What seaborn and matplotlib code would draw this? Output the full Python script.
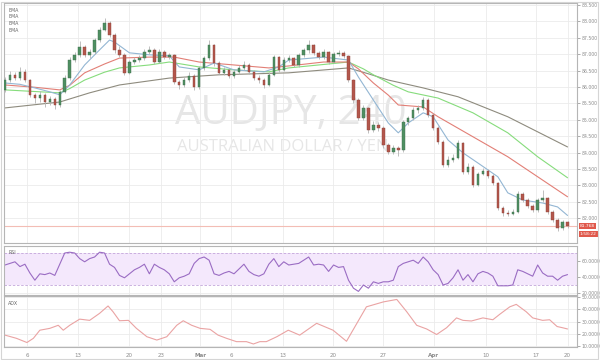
import numpy as np
import pandas as pd
import matplotlib
matplotlib.use("Agg")
import matplotlib.pyplot as plt
from matplotlib.patches import Rectangle
import seaborn as sns

# ---------------- data (AUDJPY 4H candles) ----------------
OPEN = [85.91, 86.21, 86.37, 86.28, 86.46, 86.21, 85.76, 85.67, 85.76, 85.54,
        85.63, 85.45, 85.85, 86.28, 86.82, 86.98, 87.22, 86.98, 87.07, 87.43,
        87.74, 87.95, 87.59, 87.13, 86.98, 86.43, 86.76, 86.82, 86.88, 87.07,
        87.13, 86.76, 87.07, 86.91, 86.98, 86.15, 86.06, 86.21, 86.34, 86.00,
        86.58, 86.88, 87.28, 86.73, 86.43, 86.52, 86.34, 86.46, 86.58, 86.67,
        86.46, 86.28, 86.21, 86.06, 86.37, 86.91, 86.52, 86.82, 86.88, 86.67,
        86.98, 87.13, 87.28, 87.04, 86.91, 87.07, 86.76, 87.01, 87.04, 86.95,
        86.21, 85.60, 85.05, 85.36, 84.69, 84.84, 84.75, 84.23, 84.02, 84.14,
        84.08, 84.93, 85.05, 85.30, 85.36, 85.60, 85.15, 84.75, 84.32, 83.62,
        83.77, 83.84, 84.29, 83.41, 83.56, 83.01, 83.35, 83.44, 83.29, 83.07,
        82.31, 82.16, 82.13, 82.19, 82.74, 82.55, 82.37, 82.25, 82.55, 82.61,
        82.19, 81.94, 81.70, 81.88]
HIGH = [86.30, 86.50, 86.45, 86.62, 86.55, 86.25, 85.82, 85.88, 85.80, 85.72,
        85.68, 85.92, 86.35, 86.90, 87.08, 87.40, 87.28, 87.15, 87.50, 87.82,
        88.10, 88.02, 87.65, 87.25, 87.02, 86.82, 86.92, 86.98, 87.15, 87.25,
        87.18, 87.15, 87.12, 87.05, 87.00, 86.22, 86.30, 86.45, 86.40, 86.65,
        86.95, 87.43, 87.32, 86.80, 86.62, 86.58, 86.55, 86.68, 86.80, 86.72,
        86.52, 86.35, 86.28, 86.45, 86.98, 86.95, 86.90, 86.98, 86.92, 87.05,
        87.20, 87.43, 87.32, 87.10, 87.15, 87.10, 87.08, 87.12, 87.10, 86.98,
        86.25, 85.65, 85.45, 85.40, 84.95, 84.92, 84.80, 84.30, 84.22, 84.20,
        85.00, 85.12, 85.38, 85.45, 85.70, 85.65, 85.20, 84.80, 84.38, 83.88,
        83.95, 84.38, 84.32, 83.68, 83.62, 83.42, 83.52, 83.50, 83.35, 83.10,
        82.38, 82.25, 82.28, 82.82, 82.80, 82.62, 82.42, 82.62, 82.85, 82.65,
        82.25, 82.00, 81.95, 81.92]
LOW = [85.85, 86.15, 86.20, 86.22, 86.15, 85.70, 85.50, 85.55, 85.40, 85.45,
       85.32, 85.40, 85.80, 86.22, 86.75, 86.92, 86.90, 86.88, 87.00, 87.38,
       87.70, 87.52, 87.05, 86.90, 86.35, 86.38, 86.70, 86.75, 86.82, 87.00,
       86.70, 86.72, 86.85, 86.85, 86.08, 85.95, 86.00, 86.15, 85.92, 85.95,
       86.52, 86.82, 86.65, 86.38, 86.35, 86.28, 86.28, 86.40, 86.52, 86.40,
       86.20, 86.12, 85.98, 86.02, 86.32, 86.45, 86.48, 86.75, 86.60, 86.62,
       86.92, 87.05, 86.98, 86.85, 86.85, 86.70, 86.72, 86.95, 86.88, 86.15,
       85.52, 84.98, 84.98, 84.60, 84.62, 84.65, 84.15, 83.95, 83.95, 83.90,
       84.02, 84.85, 85.00, 85.22, 85.30, 85.08, 84.68, 84.25, 83.55, 83.55,
       83.70, 83.80, 83.35, 83.35, 82.95, 82.98, 83.30, 83.22, 83.00, 82.25,
       82.05, 82.05, 82.08, 82.15, 82.48, 82.30, 82.18, 82.20, 82.50, 82.12,
       81.88, 81.62, 81.65, 81.70]
CLOSE = [86.21, 86.37, 86.28, 86.46, 86.21, 85.76, 85.67, 85.76, 85.54, 85.63,
         85.45, 85.85, 86.28, 86.82, 86.98, 87.22, 86.98, 87.07, 87.43, 87.74,
         87.95, 87.59, 87.13, 86.98, 86.43, 86.76, 86.82, 86.88, 87.07, 87.13,
         86.76, 87.07, 86.91, 86.98, 86.15, 86.06, 86.21, 86.34, 86.00, 86.58,
         86.88, 87.28, 86.73, 86.43, 86.52, 86.34, 86.46, 86.58, 86.67, 86.46,
         86.28, 86.21, 86.06, 86.37, 86.91, 86.52, 86.82, 86.88, 86.67, 86.98,
         87.13, 87.28, 87.04, 86.91, 87.07, 86.76, 87.01, 87.04, 86.95, 86.21,
         85.60, 85.05, 85.36, 84.69, 84.84, 84.75, 84.23, 84.02, 84.14, 84.08,
         84.93, 85.05, 85.30, 85.36, 85.60, 85.15, 84.75, 84.32, 83.62, 83.77,
         83.84, 84.29, 83.41, 83.56, 83.01, 83.35, 83.44, 83.29, 83.07, 82.31,
         82.16, 82.13, 82.19, 82.74, 82.55, 82.37, 82.25, 82.55, 82.61, 82.19,
         81.94, 81.70, 81.88, 81.77]
LAST_PRICE = 81.768

# EMA lines (candle index, value)
EMA1_X = [0, 3, 6, 9, 11, 13, 16, 19, 21, 22, 25, 29, 33, 35, 39, 42, 46, 52, 55, 57,
          64, 69, 71, 74, 77, 79, 81, 84, 86, 89, 92, 95, 99, 101, 104, 108, 111, 113]
EMA1_Y = [86.12, 86.08, 85.97, 85.85, 85.76, 86.06, 86.67, 87.13, 87.43, 87.37, 87.04, 86.98,
          86.95, 86.61, 86.52, 86.73, 86.52, 86.46, 86.61, 86.82, 86.91, 86.82,
          86.30, 85.60, 84.90, 84.60, 84.90, 85.21, 85.09, 84.38, 83.99, 83.68,
          83.26, 82.77, 82.55, 82.46, 82.34, 82.08]
EMA2_X = [0, 6, 11, 13, 16, 20, 23, 29, 34, 39, 46, 53, 57, 64, 69, 71, 74, 77, 79,
          84, 87, 94, 101, 107, 113]
EMA2_Y = [86.06, 85.99, 85.91, 86.05, 86.43, 86.70, 86.88, 86.91, 86.91, 86.76, 86.67,
          86.58, 86.64, 86.76, 86.76, 86.55, 86.12, 85.75, 85.45, 85.39, 85.09, 84.48,
          83.87, 83.26, 82.65]
EMA3_X = [0, 6, 11, 13, 16, 20, 23, 29, 33, 39, 46, 53, 57, 69, 72, 74, 78, 81, 87,
          94, 101, 107, 113]
EMA3_Y = [85.91, 85.86, 85.82, 85.95, 86.21, 86.45, 86.58, 86.67, 86.76, 86.61, 86.52,
          86.46, 86.58, 86.76, 86.55, 86.37, 86.05, 85.85, 85.66, 85.21, 84.60, 83.87,
          83.23]
EMA4_X = [0, 11, 17, 23, 33, 43, 57, 69, 73, 77, 84, 91, 101, 113]
EMA4_Y = [85.36, 85.54, 85.82, 86.06, 86.27, 86.37, 86.43, 86.58, 86.40, 86.21, 85.97,
          85.70, 85.09, 84.17]

RSI = [55, 57, 59, 53, 56, 45, 36, 44, 43, 45, 42, 56, 70, 71, 70, 63, 59, 63, 65, 71,
       70, 56, 52, 42, 39, 44, 49, 52, 56, 44, 56, 52, 49, 44, 34, 39, 41, 44, 57, 63,
       65, 61, 44, 42, 45, 47, 44, 50, 56, 47, 43, 41, 44, 56, 63, 53, 59, 55, 56, 57,
       61, 65, 55, 56, 55, 47, 55, 52, 53, 36, 26, 22, 30, 26, 34, 32, 34, 34, 36, 53,
       57, 59, 61, 57, 65, 59, 49, 43, 30, 32, 39, 49, 36, 43, 34, 44, 47, 45, 41, 29,
       29, 29, 30, 49, 47, 44, 41, 55, 45, 41, 41, 36, 41, 43]

ADX_X = [0, 2.3, 4.4, 5.7, 7, 9, 10.7, 11.7, 13, 15, 17, 19, 20.7, 21.7, 23, 24.8,
         26.4, 28.5, 30.5, 32.5, 34.5, 35.8, 37.5, 39.2, 41.2, 42.8, 44.5, 46.5,
         48.5, 49.9, 51.2, 52.5, 54.6, 56.9, 59.2, 62.6, 65.9, 68.6, 72.6, 76,
         78.7, 80.7, 82.7, 84.7, 86.7, 88.7, 90.7, 92, 93.7, 96, 98, 99.4, 101.4,
         102.7, 104.7, 106, 108, 109.4, 110.9, 112, 113]
ADX_Y = [19, 16.4, 13, 16.4, 23, 24.5, 27, 23, 27, 32, 31, 36.7, 42.7, 38, 30.7, 31,
         24.5, 17.7, 15, 17.7, 27, 30.7, 27, 24.5, 23.7, 19, 16.4, 13.7, 13.7, 11.8,
         13.7, 13.7, 17.7, 23, 19, 28.6, 23, 14, 42, 46, 48, 38, 27, 24, 19.5, 25,
         33, 31, 30.5, 33, 31.5, 36, 42, 44, 38, 33, 31, 31.5, 26, 25, 24]

XTICK_POS = [4.4, 14.7, 24.9, 31.3, 39.2, 45.4, 55.8, 65.9, 75.9, 86.1, 96.6, 106.6, 113]
XTICK_LAB = ['6', '13', '20', '23', 'Mar', '6', '13', '20', '27', 'Apr', '10', '17', '20']
PRICE_TICKS = [82.0, 82.5, 83.0, 83.5, 84.0, 84.5, 85.0, 85.5, 86.0, 86.5, 87.0, 87.5, 88.0, 88.5]
RSI_TICKS = [20, 40, 60]
ADX_TICKS = [10, 20, 30, 40, 50]

# ---------------- style ----------------
sns.set_theme(style="white")
plt.rcParams['font.family'] = ['DejaVu Sans']

W, H = 600, 360
fig = plt.figure(figsize=(6, 3.6), dpi=100)
fig.patch.set_facecolor('white')


def box(x0, y0, x1, y1):
    return [x0 / W, 1 - y1 / H, (x1 - x0) / W, (y1 - y0) / H]


ax_p = fig.add_axes(box(4, 3, 577, 243))
ax_r = fig.add_axes(box(4, 246, 577, 295), sharex=ax_p)
ax_a = fig.add_axes(box(4, 296, 577, 347), sharex=ax_p)

GRID = '#ebebeb'
SPINE = '#b5b5b5'
TICKC = '#8c8c8c'
for ax in (ax_p, ax_r, ax_a):
    ax.set_facecolor('white')
    for s in ax.spines.values():
        s.set_color(SPINE)
        s.set_linewidth(0.8)
    ax.yaxis.tick_right()
    ax.tick_params(axis='y', labelsize=3.3, colors=TICKC, length=2, width=0.5, pad=1.5,
                   right=True, left=False)
    ax.tick_params(axis='x', labelsize=4.0, colors=TICKC, length=2, width=0.5, pad=2)
    ax.grid(True, color=GRID, lw=0.6)
    ax.set_axisbelow(True)

ax_p.set_xlim(-0.2, 114.9)

# candles
df = pd.DataFrame(dict(i=np.arange(len(CLOSE)), o=OPEN, h=HIGH, l=LOW, c=CLOSE))
up = df.c >= df.o
ax_p.vlines(df.i, df.l, df.h, color='#b4b4b4', lw=0.6, zorder=2)
ax_p.bar(df.i[up], (df.c - df.o)[up], bottom=df.o[up], width=0.5,
         color='#4f8f62', edgecolor='#3d6e4b', lw=0.3, zorder=3)
ax_p.bar(df.i[~up], (df.o - df.c)[~up], bottom=df.c[~up], width=0.5,
         color='#b3574c', edgecolor='#8e4239', lw=0.3, zorder=3)

# EMAs
for xs, ys, col in ((EMA4_X, EMA4_Y, '#8e8b7e'), (EMA3_X, EMA3_Y, '#86dc7c'),
                    (EMA2_X, EMA2_Y, '#e27f76'), (EMA1_X, EMA1_Y, '#93b6d3')):
    sns.lineplot(x=xs, y=ys, ax=ax_p, color=col, linewidth=0.8, zorder=1.6)

ax_p.axhline(LAST_PRICE, color='#f3bdb5', lw=0.8, zorder=1.2)
ax_p.set_ylim(81.24, 88.56)
ax_p.set_yticks(PRICE_TICKS)
ax_p.set_yticklabels([f'{v:.3f}' for v in PRICE_TICKS])

# watermark
ax_p.text(0.5, 1 - (114 - 3) / 240, 'AUDJPY, 240', transform=ax_p.transAxes,
          ha='center', va='center', fontsize=29, color='#e6e6e6',
          family=['Open Sans', 'DejaVu Sans'], zorder=0.5)
ax_p.text(0.487, 1 - (147 - 3) / 240, 'AUSTRALIAN DOLLAR / YEN', transform=ax_p.transAxes,
          ha='center', va='center', fontsize=12, color='#e6e6e6',
          family=['Open Sans', 'DejaVu Sans'], zorder=0.5)

for k in range(4):
    ax_p.text(0.007, 1 - (7 + 6.7 * k) / 240, 'EMA', transform=ax_p.transAxes,
              ha='left', va='center', fontsize=3.4, color='#666666')

# price markers
yt = ax_p.get_yaxis_transform()
ax_p.text(1.005, LAST_PRICE, f'{LAST_PRICE:.3f}', transform=yt, ha='left', va='center',
          fontsize=3.2, color='white', clip_on=False,
          bbox=dict(boxstyle='square,pad=0.25', fc='#e0594c', ec='none'))
ax_p.text(1.005, LAST_PRICE - 0.25, '1:58:22', transform=yt, ha='left', va='center',
          fontsize=3.2, color='white', clip_on=False,
          bbox=dict(boxstyle='square,pad=0.25', fc='#e0594c', ec='none'))

# RSI
ax_r.axhspan(30, 70, color='#f4e8fc', zorder=0.8, lw=0)
ax_r.axhline(70, color='#c3a6da', lw=0.6, ls=(0, (3, 2)), zorder=0.9)
ax_r.axhline(30, color='#c3a6da', lw=0.6, ls=(0, (3, 2)), zorder=0.9)
sns.lineplot(x=np.arange(len(RSI)), y=RSI, ax=ax_r, color='#9a6cc3', linewidth=0.8, zorder=2)
ax_r.set_ylim(17.5, 78.75)
ax_r.set_yticks(RSI_TICKS)
ax_r.set_yticklabels([f'{v:.4f}' for v in RSI_TICKS])
ax_r.text(0.007, 0.86, 'RSI', transform=ax_r.transAxes, ha='left', va='center',
          fontsize=3.4, color='#666666')

# ADX
sns.lineplot(x=ADX_X, y=ADX_Y, ax=ax_a, color='#eaa3a3', linewidth=0.8, zorder=2)
ax_a.set_ylim(9.35, 50.8)
ax_a.set_yticks(ADX_TICKS)
ax_a.set_yticklabels([f'{v:.4f}' for v in ADX_TICKS])
ax_a.text(0.007, 0.86, 'ADX', transform=ax_a.transAxes, ha='left', va='center',
          fontsize=3.4, color='#666666')

for ax in (ax_p, ax_r, ax_a):
    ax.set_xticks(XTICK_POS)
    ax.set_xlabel('')
    ax.set_ylabel('')
ax_p.tick_params(axis='x', labelbottom=False, length=0)
ax_r.tick_params(axis='x', labelbottom=False, length=0)
ax_a.set_xticklabels(XTICK_LAB)
for lab in ax_a.get_xticklabels():
    if lab.get_text() in ('Mar', 'Apr'):
        lab.set_fontweight('bold')
ax_p.set_xlim(-0.2, 114.9)

fig.patches.append(Rectangle((1 / W, 1 / H), 597 / W, 357 / H, transform=fig.transFigure,
                             fill=False, ec='#d5d5d5', lw=0.8))

fig.savefig('out.png', dpi=100, facecolor='white')
